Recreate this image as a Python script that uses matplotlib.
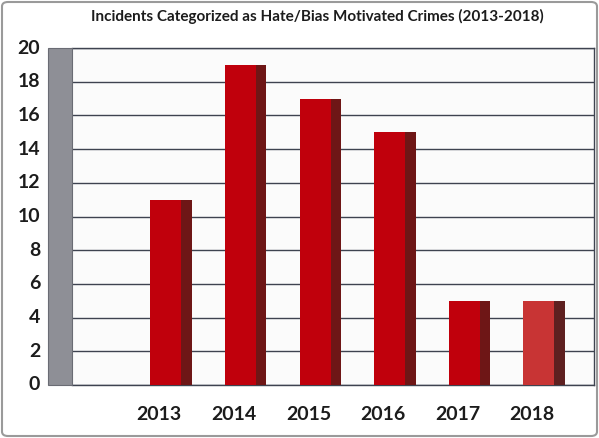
import matplotlib.pyplot as plt
from matplotlib.patches import Rectangle, FancyBboxPatch

years = ["2013", "2014", "2015", "2016", "2017", "2018"]
incidents = [11, 19, 17, 15, 5, 5]
front_colors = ["#c0000c", "#c0000c", "#c0000c", "#c0000c", "#c0000c", "#c83434"]
side_colors = ["#6e1616", "#6e1616", "#6e1616", "#6e1616", "#6e1616", "#5e2020"]
yticks = [0, 2, 4, 6, 8, 10, 12, 14, 16, 18, 20]

plt.rcParams["font.family"] = ["Lato", "DejaVu Sans"]

W, H = 599, 438
fig = plt.figure(figsize=(W / 100, H / 100), dpi=100)
fig.patch.set_facecolor("white")

# rounded page border
fig.patches.append(FancyBboxPatch((2 / W, 2 / H), 1 - 4 / W, 1 - 4 / H,
                                  boxstyle="round,pad=0,rounding_size=0.01",
                                  transform=fig.transFigure, fill=False,
                                  edgecolor="#9a9a9a", linewidth=1.5))

left, right, top, bottom = 72, 594, 48, 385
ax = fig.add_axes([left / W, 1 - bottom / H, (right - left) / W, (bottom - top) / H])
ax.set_facecolor("#fbfbfb")

# gray side wall
fig.patches.append(Rectangle((48 / W, 1 - bottom / H), 24 / W, (bottom - top) / H,
                             transform=fig.transFigure, facecolor="#8e8f96",
                             edgecolor="#6a6c74", linewidth=0.8))

x = list(range(len(years)))
front_w = 0.415
side_w = 0.14
ax.bar([i - front_w / 2 for i in x], incidents, width=front_w, align="edge",
       color=front_colors, zorder=3)
ax.bar([i + front_w / 2 for i in x], incidents, width=side_w, align="edge",
       color=side_colors, zorder=3)

ax.set_xlim(-1.26, 5.74)
ax.set_ylim(0, 20)
ax.set_yticks(yticks)
ax.yaxis.grid(True, color="#3e4350", linewidth=1.0, zorder=1)
ax.set_axisbelow(True)
for s in ["top", "right", "bottom"]:
    ax.spines[s].set_color("#3e4350")
    ax.spines[s].set_linewidth(1.0)
ax.spines["left"].set_visible(False)

ax.tick_params(length=0)
ax.set_yticklabels([])
ax.set_xticks([])
for v in yticks:
    fig.text(40 / W, 1 - (bottom - (bottom - top) * v / 20) / H, str(v),
             ha="right", va="center", fontsize=14, fontweight="bold", color="#1c1c1c")
for i, yr in enumerate(years):
    ax.text(i - 0.09, -1.75, yr, ha="center", va="center", fontsize=14,
            fontweight="bold", color="#1c1c1c")

fig.text(317 / W, 1 - 16 / H, "Incidents Categorized as Hate/Bias Motivated Crimes (2013-2018)",
         ha="center", va="center", fontsize=11, fontweight="bold", color="#1c1c1c")

fig.savefig("out.png", dpi=100)
